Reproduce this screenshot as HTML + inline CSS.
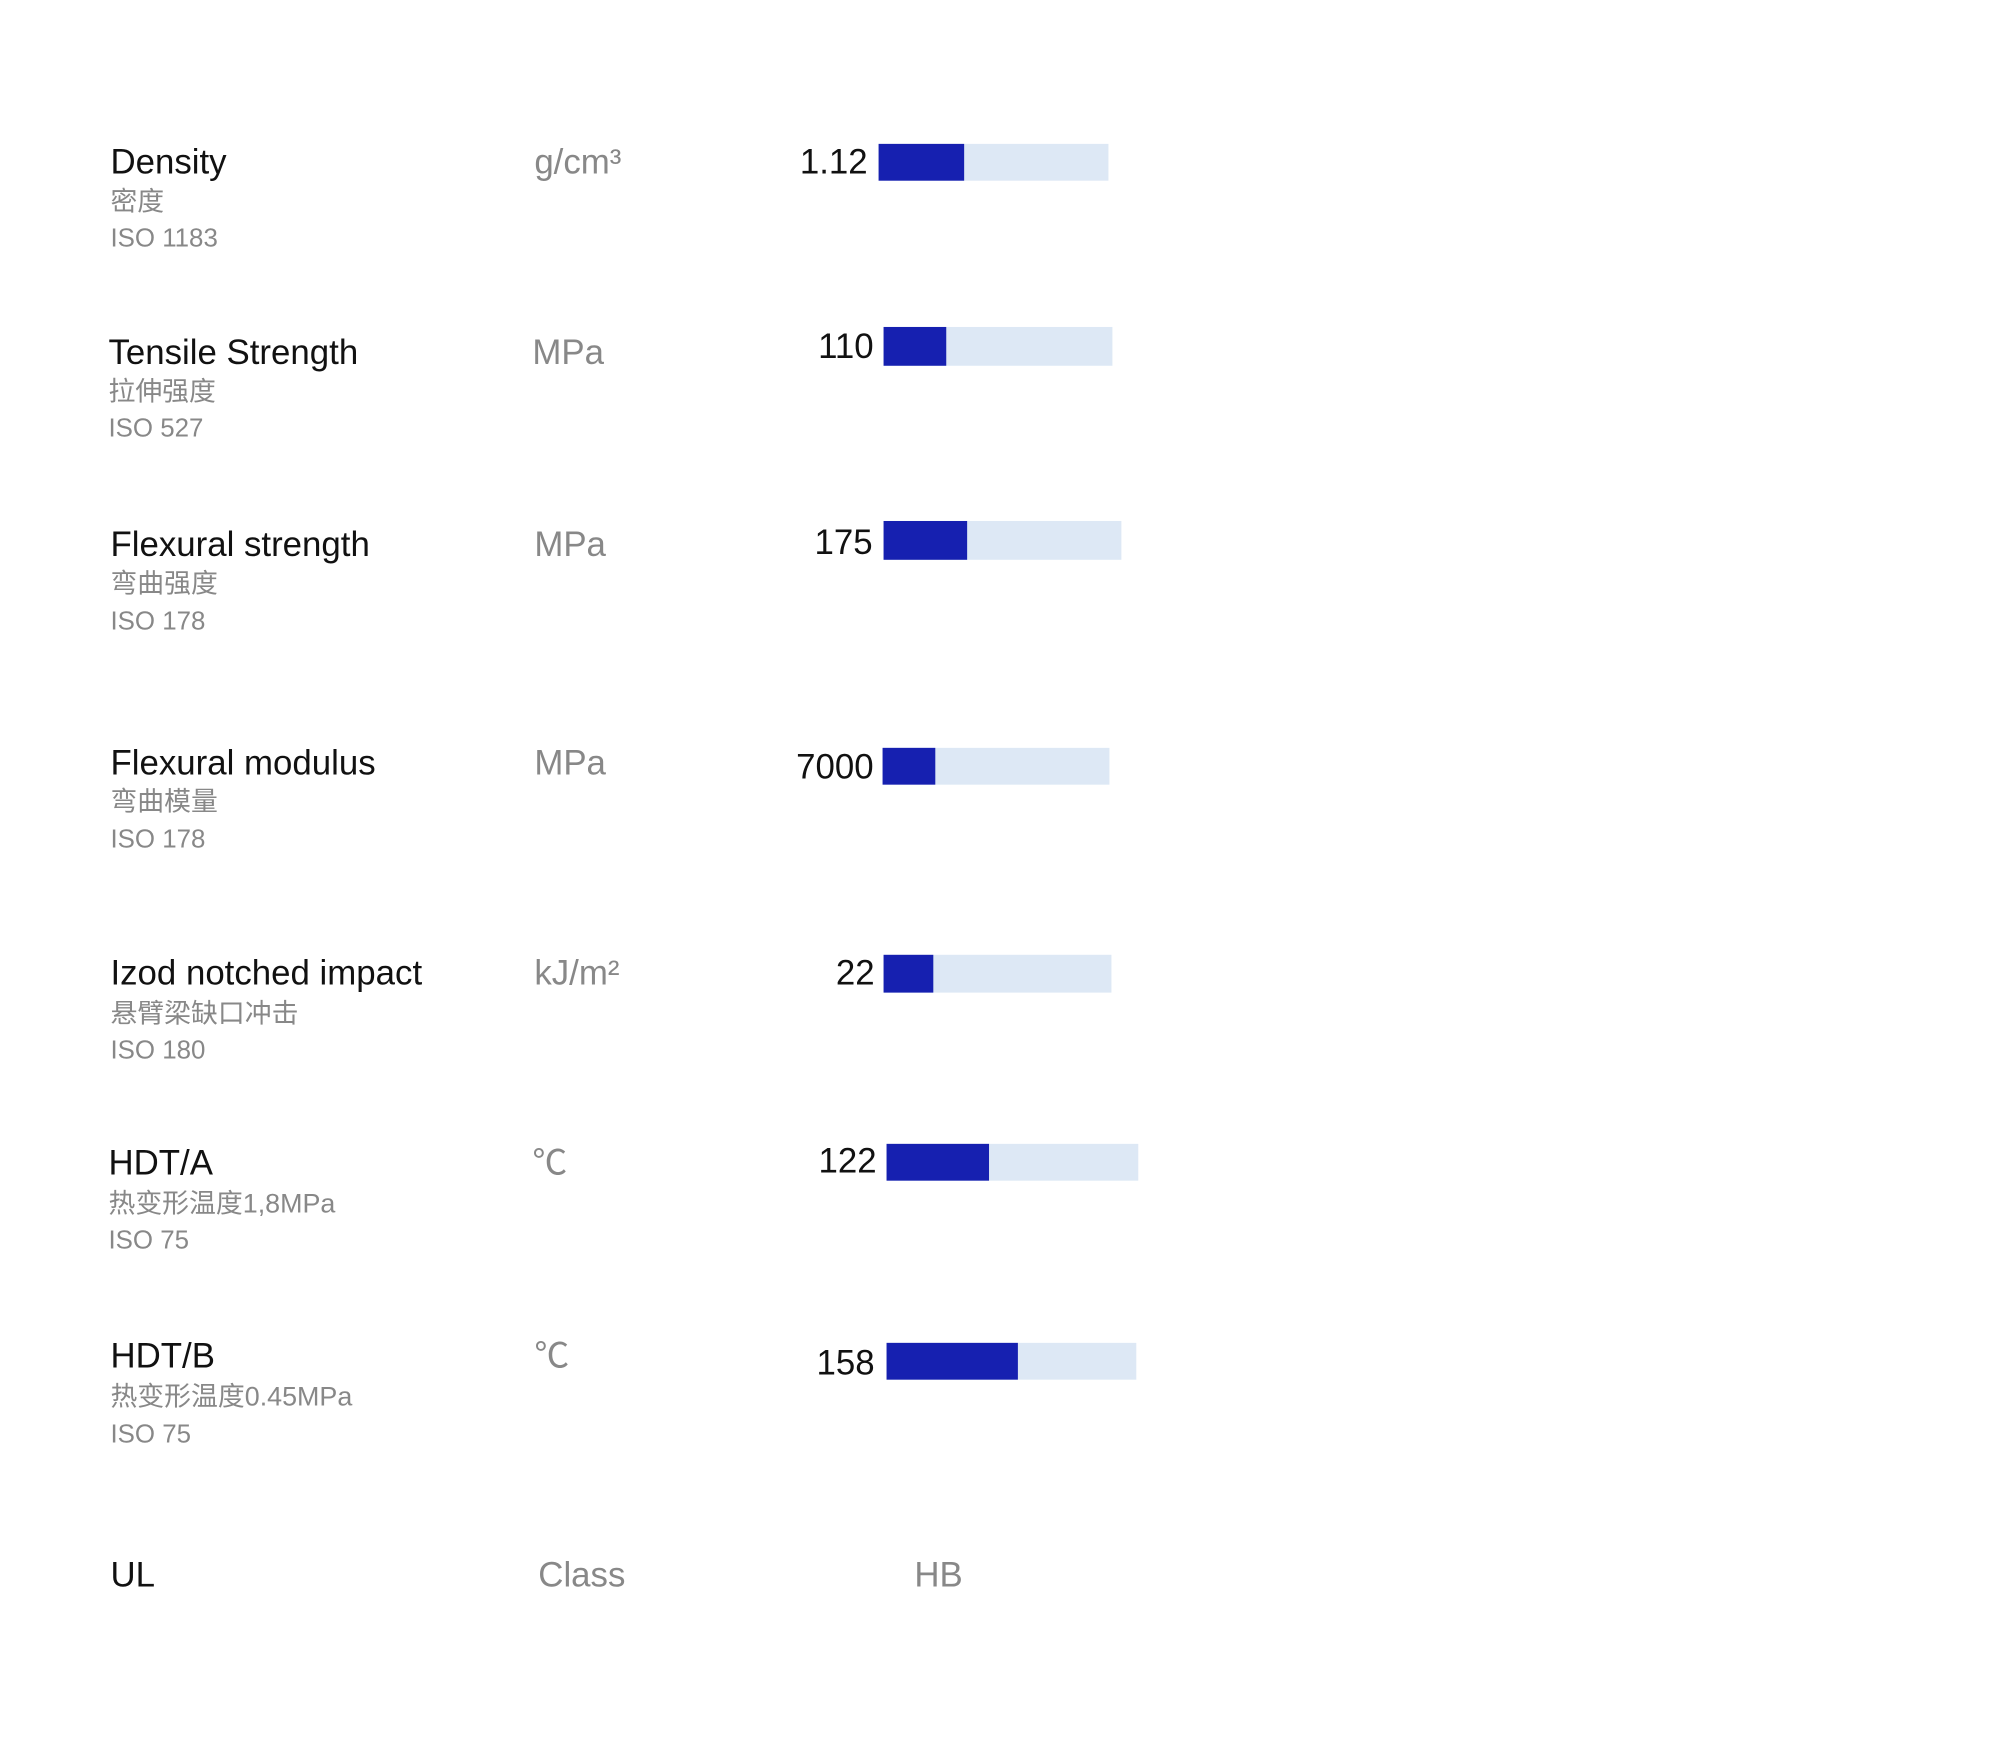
<!DOCTYPE html>
<html><head><meta charset="utf-8"><style>
body{margin:0;width:2000px;height:1737px;background:#fff;position:relative;overflow:hidden;font-family:"Liberation Sans","Noto Sans CJK SC",sans-serif}
#w{position:absolute;left:0;top:0;width:2000px;height:1737px;transform-origin:0 120px;transform:scale(0.995)}
.t{position:absolute;white-space:nowrap;line-height:1}
.h{font-size:35px;color:#111}
.c{font-size:27px;color:#888}
.i{font-size:26px;color:#888}
.u{font-size:35px;color:#888}
.v{font-size:35px;color:#111;text-align:right;width:200px}
.b{position:absolute;background:#dde8f5}
.d{position:absolute;left:0;top:0;bottom:0;background:#1620b0}
</style></head><body><div id="w">

<div class="t h" style="left:111px;top:145px">Density</div>
<div class="t c" style="left:111px;top:189px">密度</div>
<div class="t i" style="left:111px;top:225px">ISO 1183</div>
<div class="t u" style="left:537px;top:145px">g/cm³</div>
<div class="t v" style="left:672px;top:145px">1.12</div>
<div class="b" style="left:883px;top:144px;width:231px;height:37px"><div class="d" style="width:86px"></div></div>

<div class="t h" style="left:109px;top:336px">Tensile Strength</div>
<div class="t c" style="left:109px;top:380px">拉伸强度</div>
<div class="t i" style="left:109px;top:416px">ISO 527</div>
<div class="t u" style="left:535px;top:336px">MPa</div>
<div class="t v" style="left:678px;top:330px">110</div>
<div class="b" style="left:888px;top:328px;width:230px;height:39px"><div class="d" style="width:63px"></div></div>

<div class="t h" style="left:111px;top:529px">Flexural strength</div>
<div class="t c" style="left:111px;top:573px">弯曲强度</div>
<div class="t i" style="left:111px;top:610px">ISO 178</div>
<div class="t u" style="left:537px;top:529px">MPa</div>
<div class="t v" style="left:677px;top:527px">175</div>
<div class="b" style="left:888px;top:523px;width:239px;height:39px"><div class="d" style="width:84px"></div></div>

<div class="t h" style="left:111px;top:749px">Flexural modulus</div>
<div class="t c" style="left:111px;top:792px">弯曲模量</div>
<div class="t i" style="left:111px;top:829px">ISO 178</div>
<div class="t u" style="left:537px;top:749px">MPa</div>
<div class="t v" style="left:678px;top:753px">7000</div>
<div class="b" style="left:887px;top:751px;width:228px;height:37px"><div class="d" style="width:53px"></div></div>

<div class="t h" style="left:111px;top:960px">Izod notched impact</div>
<div class="t c" style="left:111px;top:1005px">悬臂梁缺口冲击</div>
<div class="t i" style="left:111px;top:1041px">ISO 180</div>
<div class="t u" style="left:537px;top:960px">kJ/m²</div>
<div class="t v" style="left:679px;top:960px">22</div>
<div class="b" style="left:888px;top:959px;width:229px;height:38px"><div class="d" style="width:50px"></div></div>

<div class="t h" style="left:109px;top:1151px">HDT/A</div>
<div class="t c" style="left:109px;top:1196px">热变形温度1,8MPa</div>
<div class="t i" style="left:109px;top:1232px">ISO 75</div>
<div class="t u" style="left:535px;top:1151px">℃</div>
<div class="t v" style="left:681px;top:1149px">122</div>
<div class="b" style="left:891px;top:1149px;width:253px;height:37px"><div class="d" style="width:103px"></div></div>

<div class="t h" style="left:111px;top:1345px">HDT/B</div>
<div class="t c" style="left:111px;top:1390px">热变形温度0.45MPa</div>
<div class="t i" style="left:111px;top:1427px">ISO 75</div>
<div class="t u" style="left:537px;top:1345px">℃</div>
<div class="t v" style="left:679px;top:1352px">158</div>
<div class="b" style="left:891px;top:1349px;width:251px;height:37px"><div class="d" style="width:132px"></div></div>

<div class="t h" style="left:111px;top:1565px">UL</div>
<div class="t u" style="left:541px;top:1565px">Class</div>
<div class="t u" style="left:919px;top:1565px">HB</div>

</div></body></html>
